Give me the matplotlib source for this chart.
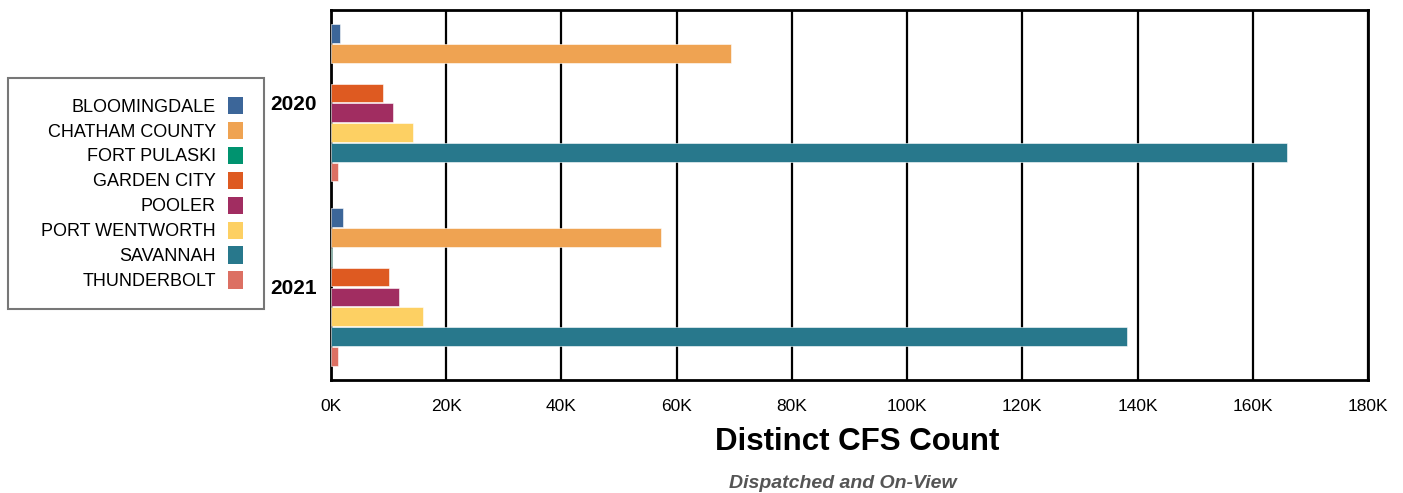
import matplotlib.pyplot as plt
import numpy as np
from matplotlib.ticker import FuncFormatter
from matplotlib.patches import Patch, Rectangle

plt.rcParams['font.family'] = ['Liberation Sans', 'DejaVu Sans']

years = ['2020', '2021']
agencies = ['BLOOMINGDALE', 'CHATHAM COUNTY', 'FORT PULASKI', 'GARDEN CITY',
            'POOLER', 'PORT WENTWORTH', 'SAVANNAH', 'THUNDERBOLT']
colors = ['#3C6699', '#EFA352', '#00936F', '#DE5A21',
          '#A12D61', '#FDD063', '#28788C', '#DC7063']
# counts per agency, in thousands
counts_2020 = [1.6, 69.4, 0.0, 9.0, 10.8, 14.2, 166.0, 1.3]
counts_2021 = [2.0, 57.3, 0.2, 10.1, 11.8, 15.9, 138.2, 1.3]

W, H = 1403, 493
fig = plt.figure(figsize=(W/100, H/100), dpi=100)
ax = fig.add_axes([331/W, 1 - 380/H, (1368-331)/W, 370/H])

group_gap = 9.3
for gi, vals in enumerate([counts_2020, counts_2021]):
    for i, v in enumerate(vals):
        if v <= 0:
            continue
        ax.barh(gi * group_gap + i, v * 1000, height=0.94, color=colors[i],
                edgecolor='white', linewidth=0.4, zorder=3)

ax.set_ylim(17.5, -1.19)
ax.set_xlim(0, 180000)
ax.set_yticks([3.5, group_gap + 3.5])
ax.set_yticklabels(years, fontsize=15, fontweight='bold')
ax.tick_params(axis='y', length=0, pad=10)
ax.set_xticks(np.arange(0, 180001, 20000))
ax.xaxis.set_major_formatter(FuncFormatter(lambda x, p: f'{int(x/1000)}K'))
ax.tick_params(axis='x', length=0, pad=14, labelsize=12.5)
ax.grid(axis='x', color='black', linewidth=1.6, zorder=0)
for s in ax.spines.values():
    s.set_color('black')
    s.set_linewidth(2)

fig.text(857/W, 1 - 442/H, 'Distinct CFS Count', ha='center', va='center',
         fontsize=22.5, fontweight='bold')
fig.text(843/W, 1 - 483/H, 'Dispatched and On-View', ha='center', va='center',
         fontsize=14, fontweight='bold', style='italic', color='#555555')

# legend box drawn separately so its padding can match the original
fig.patches.append(Rectangle((8/W, 1 - 309/H), 256/W, 231/H, transform=fig.transFigure,
                             facecolor='white', edgecolor='#777777', linewidth=1.5, zorder=0))
handles = [Patch(facecolor=c, edgecolor='none') for c in colors]
leg = fig.legend(handles, agencies, loc='center right', bbox_to_anchor=(243/W, 1 - 193.5/H),
                 markerfirst=False, fontsize=13, frameon=False,
                 handlelength=0.85, handleheight=1.1,
                 labelspacing=0.34, borderpad=0, handletextpad=0.65, borderaxespad=0)

fig.savefig('out.png', dpi=100)
